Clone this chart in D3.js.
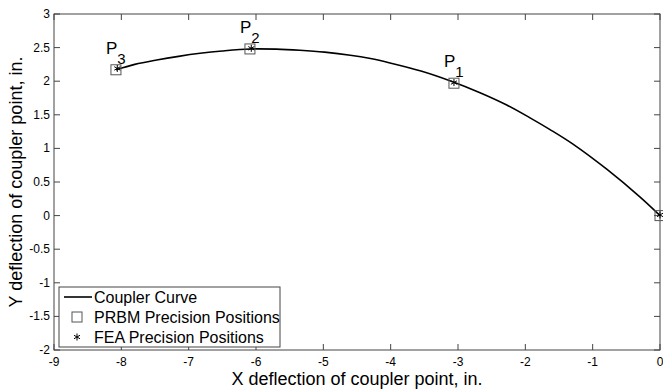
<!DOCTYPE html>
<html><head><meta charset="utf-8">
<script src="https://cdn.jsdelivr.net/npm/d3@7"></script>
<style>body{margin:0;background:#fff}svg{display:block}text{font-family:"Liberation Sans",Arial,sans-serif}</style>
</head><body><svg id="c" width="663" height="389"></svg>
<script>
// Data
const curveX = [-8.08,-7.8,-7.475,-7.15,-6.83,-6.5,-6.09,-5.7,-5.35,-4.98,-4.6,-4.3,-4.01,-3.55,-3.12,-2.673,-2.276,-1.93,-1.633,-1.287,-0.791,-0.295,0];
const curveY = [2.17,2.25,2.315,2.37,2.415,2.45,2.48,2.477,2.46,2.432,2.387,2.337,2.272,2.152,2.007,1.829,1.646,1.455,1.28,1.06,0.69,0.275,0];
const prbmX = [-3.06,-6.09,-8.08,0];
const prbmY = [1.97,2.48,2.17,0];
const feaX = [-3.06,-6.07,-8.06,0];
const feaY = [1.98,2.49,2.19,0.01];
const pLabels = ["1","2","3"];
const xTicks = [-9,-8,-7,-6,-5,-4,-3,-2,-1,0];
const yTicks = [-2,-1.5,-1,-0.5,0,0.5,1,1.5,2,2.5,3];

const svg = d3.select("#c");
const L=54,R=660,T=14,B=350;
const x = d3.scaleLinear().domain([-9,0]).range([L,R]);
const y = d3.scaleLinear().domain([-2,3]).range([B,T]);
const tickCol="#444";

const g = svg.append("g");
xTicks.forEach(v=>{
  g.append("line").attr("x1",x(v)).attr("x2",x(v)).attr("y1",B).attr("y2",B-6).attr("stroke",tickCol);
  g.append("line").attr("x1",x(v)).attr("x2",x(v)).attr("y1",T).attr("y2",T+6).attr("stroke",tickCol);
  g.append("text").attr("x",x(v)).attr("y",B+16).attr("text-anchor","middle").attr("font-size",12).attr("fill","#000").text(v);
});
yTicks.forEach(v=>{
  g.append("line").attr("y1",y(v)).attr("y2",y(v)).attr("x1",L).attr("x2",L+6).attr("stroke",tickCol);
  g.append("line").attr("y1",y(v)).attr("y2",y(v)).attr("x1",R).attr("x2",R-6).attr("stroke",tickCol);
  g.append("text").attr("x",L-4).attr("y",y(v)+4).attr("text-anchor","end").attr("font-size",12).attr("fill","#000").text(v);
});
svg.append("rect").attr("x",L).attr("y",T).attr("width",R-L).attr("height",B-T).attr("fill","none").attr("stroke",tickCol).attr("stroke-width",1);

// curve
const line = d3.line().x((d,i)=>x(curveX[i])).y((d,i)=>y(curveY[i])).curve(d3.curveCatmullRom.alpha(0.5));
svg.append("path").datum(curveX).attr("d",line).attr("fill","none").attr("stroke","#000").attr("stroke-width",1.6);

prbmX.forEach((v,i)=>{
  svg.append("rect").attr("x",x(v)-5).attr("y",y(prbmY[i])-5).attr("width",10).attr("height",10).attr("fill","none").attr("stroke","#555").attr("stroke-width",1);
});
function star(gp,cx,cy,r){
  [0,60,120].forEach(a=>{
    const rad=a*Math.PI/180;
    gp.append("line").attr("x1",cx-r*Math.sin(rad)).attr("y1",cy-r*Math.cos(rad)).attr("x2",cx+r*Math.sin(rad)).attr("y2",cy+r*Math.cos(rad)).attr("stroke","#000").attr("stroke-width",1);
  });
}
feaX.forEach((v,i)=>star(svg,x(v),y(feaY[i]),3.5));

pLabels.forEach((s,i)=>{
  const px=x(prbmX[i]), py=y(prbmY[i]);
  const t=svg.append("text").attr("x",px-10).attr("y",py-16).attr("font-size",17).attr("fill","#000");
  t.append("tspan").text("P");
  t.append("tspan").attr("dy",10).attr("font-size",15).text(s);
});

svg.append("text").attr("x",(L+R)/2).attr("y",385).attr("text-anchor","middle").attr("font-size",18).text("X deflection of coupler point, in.");
svg.append("text").attr("transform",`translate(22,${(T+B)/2}) rotate(-90)`).attr("text-anchor","middle").attr("font-size",18).text("Y deflection of coupler point, in.");

const lg=svg.append("g");
lg.append("rect").attr("x",59).attr("y",287).attr("width",221).attr("height",60).attr("fill","#fff").attr("stroke","#444");
const items=["Coupler Curve","PRBM Precision Positions","FEA Precision Positions"];
const ly=[297,317,337];
lg.append("line").attr("x1",64).attr("x2",92).attr("y1",ly[0]).attr("y2",ly[0]).attr("stroke","#000").attr("stroke-width",1.6);
lg.append("rect").attr("x",72).attr("y",ly[1]-5).attr("width",10).attr("height",10).attr("fill","none").attr("stroke","#555");
star(lg,77,ly[2],3.5);
items.forEach((s,i)=>lg.append("text").attr("x",94).attr("y",ly[i]+6).attr("font-size",16).text(s));
</script></body></html>
